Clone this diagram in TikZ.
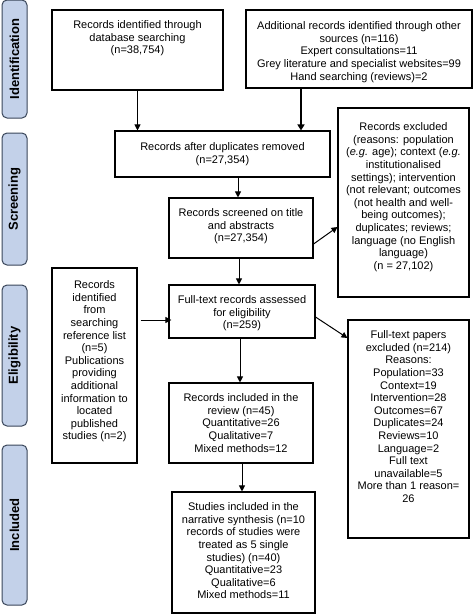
\documentclass[tikz,border=0pt]{standalone}
\usepackage{fontspec}
\setmainfont{Liberation Sans}
\usetikzlibrary{arrows.meta,calc}
\definecolor{phasefill}{HTML}{C3D1E9}
\definecolor{phaseline}{HTML}{3A465A}
\tikzset{
  box/.style={draw=black, line width=1.1pt, inner sep=0pt},
  txt/.style={anchor=north, align=center, inner sep=0pt, font=\fontsize{11}{12.6}\selectfont},
  phase/.style={draw=phaseline, fill=phasefill, line width=1pt, rounded corners=5pt, inner sep=0pt,
    minimum width=25pt},
  phasetxt/.style={rotate=90, font=\bfseries\fontsize{13}{15}\selectfont},
  arr/.style={-{Triangle[length=6pt,width=6pt]}, line width=1pt},
  thickarr/.style={-{Triangle[length=6pt,width=7pt]}, line width=2pt}
}
\begin{document}
\begin{tikzpicture}[x=1pt,y=-1pt]
\useasboundingbox (0,0) rectangle (473,614);
% phase labels
\node[phase, minimum height=118pt] (pI) at (14.5,59) {};
\node[phasetxt] (pIt) at (pI.center) {Identification};
\node[phase, minimum height=132pt] (pS) at (14.5,199) {};
\node[phasetxt] (pSt) at (pS.center) {Screening};
\node[phase, minimum height=141pt] (pE) at (14.5,355.5) {};
\node[phasetxt] (pEt) at (pE.center) {Eligibility};
\node[phase, minimum height=160pt] (pN) at (14.5,525) {};
\node[phasetxt] (pNt) at (pN.center) {Included};
% boxes
\node[box, minimum width=171pt, minimum height=80pt] (b1) at (137.5,50) {};
\node[txt] (t1) at ([yshift=-11pt]b1.north) {Records identified through\\database searching\\(n=38,754)};
\node[box, minimum width=226pt, minimum height=78pt] (b2) at (359,49) {};
\node[txt] (t2) at ([yshift=-12pt]b2.north) {Additional records identified through other\\sources (n=116)\\Expert consultations=11\\Grey literature and specialist websites=99\\Hand searching (reviews)=2};
\node[box, minimum width=215pt, minimum height=46pt] (b3) at (222.5,154) {};
\node[txt] (t3) at ([yshift=-12pt]b3.north) {Records after duplicates removed\\(n=27,354)};
\node[box, minimum width=144pt, minimum height=60pt] (b4) at (241,228) {};
\node[txt] (t4) at ([yshift=-11pt]b4.north) {Records screened on title\\and abstracts\\(n=27,354)};
\node[box, minimum width=131pt, minimum height=189pt] (b5) at (403.5,202.5) {};
\node[txt] (t5) at ([yshift=-15pt]b5.north) {Records excluded\\(reasons: population\\(\textit{e.g.} age); context (\textit{e.g.}\\institutionalised\\settings); intervention\\(not relevant; outcomes\\(not health and well-\\being outcomes);\\duplicates; reviews;\\language (no English\\language)\\(n = 27,102)};
\node[box, minimum width=85pt, minimum height=195pt] (b6) at (94.5,365.5) {};
\node[txt] (t6) at ([yshift=-13pt]b6.north) {Records\\identified\\from\\searching\\reference list\\(n=5)\\Publications\\providing\\additional\\information to\\located\\published\\studies (n=2)};
\node[box, minimum width=146pt, minimum height=53pt] (b7) at (242,311.5) {};
\node[txt] (t7) at ([yshift=-11pt]b7.north) {Full-text records assessed\\for eligibility\\(n=259)};
\node[box, minimum width=121pt, minimum height=218pt] (b8) at (408.5,429) {};
\node[txt] (t8) at ([yshift=-11pt]b8.north) {Full-text papers\\excluded (n=214)\\Reasons:\\Population=33\\Context=19\\Intervention=28\\Outcomes=67\\Duplicates=24\\Reviews=10\\Language=2\\Full text\\unavailable=5\\More than 1 reason=\\26};
\node[box, minimum width=144pt, minimum height=80pt] (b9) at (241,423) {};
\node[txt] (t9) at ([yshift=-11pt]b9.north) {Records included in the\\review (n=45)\\Quantitative=26\\Qualitative=7\\Mixed methods=12};
\node[box, minimum width=143pt, minimum height=121pt] (b10) at (243.5,552.5) {};
\node[txt] (t10) at ([yshift=-11pt]b10.north) {Studies included in the\\narrative synthesis (n=10\\records of studies were\\treated as 5 single\\studies) (n=40)\\Quantitative=23\\Qualitative=6\\Mixed methods=11};
% connectors
\draw[arr] (b1.south) -- (b1.south |- b3.north);
\draw[thickarr] ([xshift=-58pt]b2.south) -- ([xshift=-58pt]b2.south |- b3.north);
\draw[arr] ([xshift=-3pt]b4.north |- b3.south) -- ([xshift=-3pt]b4.north);
\draw[arr] ([yshift=-16pt]b4.east) -- ([yshift=-24.5pt]b5.west);
\draw[arr] ([xshift=-3pt]b7.north |- b4.south) -- ([xshift=-3pt]b7.north);
\draw[arr] ([xshift=3pt,yshift=45.5pt]b6.east) -- ([xshift=3pt,yshift=45.5pt]b6.east -| b7.west);
\draw[arr] ([yshift=-5.5pt]b7.east) -- ([yshift=91pt]b8.west);
\draw[arr] ([xshift=-2pt]b7.south) -- ([xshift=-2pt]b7.south |- b9.north);
\draw[arr] ([xshift=1pt]b9.south) -- ([xshift=1pt]b9.south |- b10.north);
\end{tikzpicture}
\end{document}
